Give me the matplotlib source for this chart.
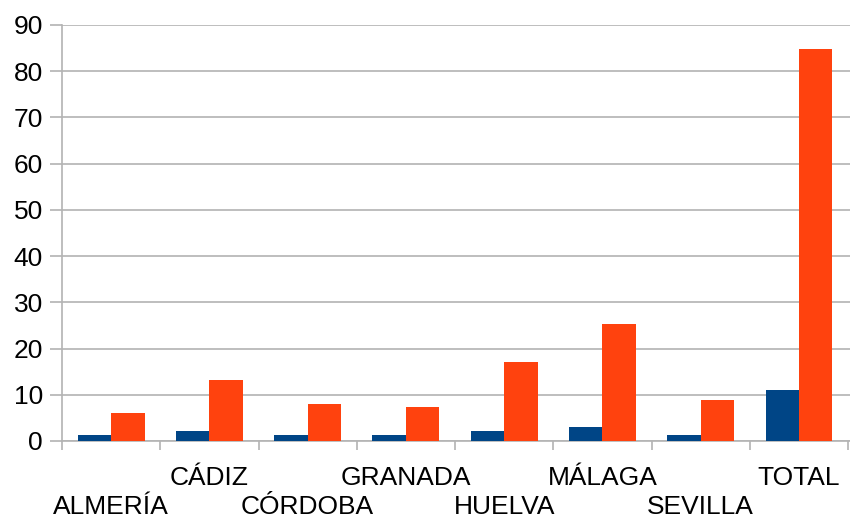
import numpy as np
import matplotlib
matplotlib.use("Agg")
import matplotlib.pyplot as plt

# provinces and the two series
provinces = ["ALMERÍA", "CÁDIZ", "CÓRDOBA", "GRANADA", "HUELVA", "MÁLAGA", "SEVILLA", "TOTAL"]
series_blue = [1.3, 2.2, 1.3, 1.3, 2.2, 3.0, 1.3, 11.0]
series_orange = [6.0, 13.2, 8.0, 7.3, 17.1, 25.3, 8.9, 84.8]

plt.rcParams["font.family"] = ["Liberation Sans", "DejaVu Sans"]

fig = plt.figure(figsize=(8.5, 5.18), dpi=100)
ax = fig.add_axes([62 / 850, 1 - 441 / 518, 1 - 62 / 850, (441 - 25) / 518])

x = np.arange(len(provinces))
w = 0.34
ax.bar(x - w / 2, series_blue, w, color="#004586", zorder=3)
ax.bar(x + w / 2, series_orange, w, color="#ff420e", zorder=3)

ax.set_ylim(0, 90)
ax.set_xlim(-0.5, len(provinces) - 0.48)
ax.set_yticks(range(0, 91, 10))
ax.yaxis.grid(True, color="#b3b3b3", linewidth=1.2, zorder=0)

# category boundary ticks
ax.set_xticks(np.arange(len(provinces) + 1) - 0.5, minor=True)
ax.tick_params(axis="x", which="minor", length=6.5, width=1.2, color="#b3b3b3", direction="out")
ax.set_xticks(x)
ax.set_xticklabels(provinces)
ax.tick_params(axis="x", which="major", length=0, labelsize=19)
for i, t in enumerate(ax.xaxis.get_major_ticks()):
    t.set_pad(39 if i % 2 == 0 else 18)

ax.tick_params(axis="y", length=8.6, width=1.2, color="#b3b3b3", labelsize=19, pad=5)

for side in ["top", "right"]:
    ax.spines[side].set_visible(False)
ax.spines["left"].set_color("#b3b3b3")
ax.spines["left"].set_linewidth(1.2)
ax.spines["bottom"].set_color("#b3b3b3")
ax.spines["bottom"].set_linewidth(1.2)

fig.savefig("out.png", dpi=100)
